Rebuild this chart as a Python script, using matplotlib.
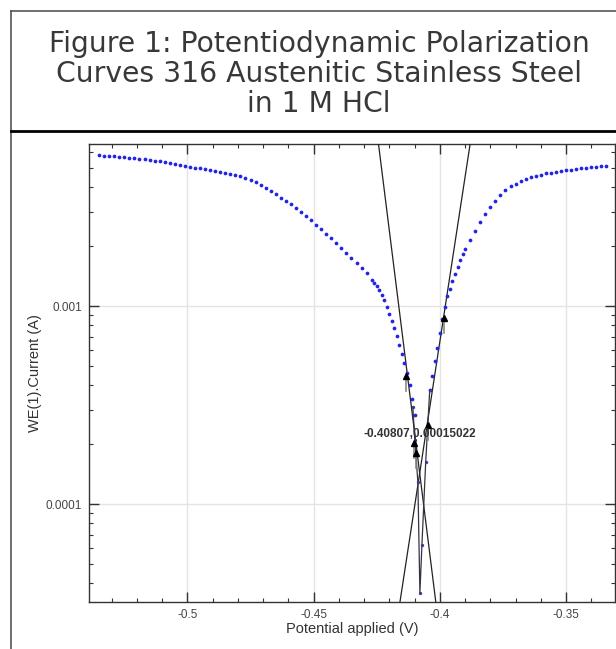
import matplotlib
matplotlib.use("Agg")
import matplotlib.pyplot as plt
from matplotlib.lines import Line2D
from matplotlib.ticker import FixedLocator, MultipleLocator, LogLocator, NullFormatter

# --- data (potential V, current A) ---
cat_E = [-0.535, -0.533, -0.531, -0.529, -0.527, -0.525, -0.523, -0.521, -0.519, -0.517,
         -0.515, -0.513, -0.511, -0.509, -0.507, -0.505, -0.503, -0.501, -0.499, -0.497,
         -0.495, -0.493, -0.491, -0.489, -0.487, -0.485, -0.483, -0.481, -0.479, -0.477,
         -0.475, -0.473, -0.471, -0.469, -0.467, -0.465, -0.463, -0.461, -0.459, -0.457,
         -0.455, -0.453, -0.451, -0.449, -0.447, -0.445, -0.443, -0.441, -0.439, -0.437,
         -0.435, -0.433, -0.431, -0.429, -0.427, -0.426, -0.425, -0.424, -0.423, -0.422,
         -0.421, -0.420, -0.419, -0.418, -0.417, -0.416, -0.415, -0.414, -0.413, -0.412,
         -0.411, -0.410]
cat_I = [5.78e-3, 5.75e-3, 5.73e-3, 5.70e-3, 5.67e-3, 5.65e-3, 5.61e-3, 5.58e-3, 5.55e-3, 5.51e-3,
         5.47e-3, 5.42e-3, 5.37e-3, 5.32e-3, 5.26e-3, 5.21e-3, 5.15e-3, 5.09e-3, 5.05e-3, 5.00e-3,
         4.95e-3, 4.91e-3, 4.85e-3, 4.81e-3, 4.75e-3, 4.70e-3, 4.65e-3, 4.58e-3, 4.51e-3, 4.42e-3,
         4.32e-3, 4.21e-3, 4.07e-3, 3.94e-3, 3.80e-3, 3.66e-3, 3.53e-3, 3.40e-3, 3.26e-3, 3.12e-3,
         2.99e-3, 2.85e-3, 2.72e-3, 2.58e-3, 2.45e-3, 2.32e-3, 2.20e-3, 2.08e-3, 1.97e-3, 1.86e-3,
         1.75e-3, 1.65e-3, 1.56e-3, 1.46e-3, 1.36e-3, 1.31e-3, 1.26e-3, 1.20e-3, 1.135e-3, 1.07e-3,
         9.93e-4, 9.16e-4, 8.41e-4, 7.71e-4, 7.05e-4, 6.38e-4, 5.75e-4, 5.13e-4, 4.57e-4, 3.98e-4,
         3.39e-4, 2.82e-4]

# noisy points around the corrosion potential
mid_E = [-0.4107, -0.4099, -0.4087, -0.4079, -0.4071, -0.4056, -0.4040]
mid_I = [3.09e-4, 2.10e-4, 1.29e-4, 3.56e-5, 6.2e-5, 1.63e-4, 3.77e-4]

an_E = [-0.404, -0.403, -0.402, -0.401, -0.400, -0.399, -0.398, -0.397, -0.396, -0.395,
        -0.394, -0.393, -0.392, -0.391, -0.390, -0.388, -0.386, -0.384, -0.382, -0.380,
        -0.378, -0.376, -0.374, -0.372, -0.370, -0.368, -0.366, -0.364, -0.362, -0.360,
        -0.358, -0.356, -0.354, -0.352, -0.350, -0.348, -0.346, -0.344, -0.342, -0.340,
        -0.338, -0.336, -0.334]
an_I = [3.77e-4, 4.42e-4, 5.25e-4, 6.17e-4, 7.33e-4, 8.61e-4, 9.89e-4, 1.12e-3, 1.22e-3, 1.33e-3,
        1.45e-3, 1.57e-3, 1.70e-3, 1.83e-3, 1.95e-3, 2.15e-3, 2.39e-3, 2.65e-3, 2.92e-3, 3.18e-3,
        3.41e-3, 3.65e-3, 3.85e-3, 4.02e-3, 4.15e-3, 4.27e-3, 4.38e-3, 4.48e-3, 4.55e-3, 4.61e-3,
        4.67e-3, 4.72e-3, 4.76e-3, 4.81e-3, 4.84e-3, 4.89e-3, 4.92e-3, 4.95e-3, 4.99e-3, 5.02e-3,
        5.05e-3, 5.08e-3, 5.11e-3]

# Tafel fit lines
tafel_cat_E = [-0.4243, -0.4016]
tafel_cat_I = [6.58e-3, 3.20e-5]
tafel_an_E = [-0.3880, -0.4158]
tafel_an_I = [6.58e-3, 3.20e-5]

# fit-range markers
mark_E = [-0.4135, -0.3984, -0.4103, -0.4048, -0.4095]
mark_I = [4.43e-4, 8.70e-4, 2.03e-4, 2.51e-4, 1.80e-4]

ecorr = -0.40807
icorr = 0.00015022

title_lines = ["Figure 1: Potentiodynamic Polarization",
               "Curves 316 Austenitic Stainless Steel",
               "in 1 M HCl"]

xticks = [-0.5, -0.45, -0.4, -0.35]
xticklabels = ["-0.5", "-0.45", "-0.4", "-0.35"]
yticks = [1e-4, 1e-3]
yticklabels = ["0.0001", "0.001"]

plt.rcParams["font.family"] = ["Liberation Sans", "DejaVu Sans"]

fig = plt.figure(figsize=(6.16, 6.49), dpi=100)

# frame round the figure, and the rule under the title
fig.add_artist(Line2D([11/616, 11/616], [0, 1 - 11/649], color="#555555", lw=1.2))
fig.add_artist(Line2D([11/616, 1], [1 - 11/649, 1 - 11/649], color="#555555", lw=1.2))
fig.add_artist(Line2D([11/616, 1], [1 - 131/649, 1 - 131/649], color="black", lw=2.0))

for k, line in enumerate(title_lines):
    fig.text(319/616, 1 - (52 + 30 * k)/649, line, ha="center", va="baseline",
             fontsize=20.3, family="DejaVu Sans", color="#383838")

ax = fig.add_axes([89/616, 1 - 602/649, (615 - 89)/616, (602 - 144)/649])
ax.set_yscale("log")

ax.plot(tafel_cat_E, tafel_cat_I, color="#222222", lw=0.9, zorder=3)
ax.plot(tafel_an_E, tafel_an_I, color="#222222", lw=0.9, zorder=3)
ax.plot(mid_E, mid_I, color="#333344", lw=0.9, zorder=3)

ax.plot(cat_E, cat_I, "o", color="#2424e0", ms=2.7, mec="none", zorder=4)
ax.plot(an_E, an_I, "o", color="#2424e0", ms=2.7, mec="none", zorder=4)
ax.plot(mid_E, mid_I, "o", color="#3a3a90", ms=2.4, mec="none", zorder=4)

# gray stems under the fit markers
for e, i in zip(mark_E, mark_I):
    ax.plot([e, e], [i * 0.84, i], color="#888888", lw=1.2, zorder=4)
ax.plot(mark_E, mark_I, "^", color="black", ms=4.5, zorder=5)

ax.annotate(f"{ecorr},{icorr:.8f}", (ecorr, icorr), xytext=(0, 35),
            textcoords="offset pixels", ha="center", va="center",
            fontsize=8.5, fontweight="bold", color="#333333", zorder=6)

ax.set_xlim(-0.539, -0.3306)
ax.set_ylim(3.2e-5, 6.58e-3)

ax.xaxis.set_major_locator(FixedLocator(xticks))
ax.set_xticklabels(xticklabels)
ax.xaxis.set_minor_locator(MultipleLocator(0.01))
ax.yaxis.set_major_locator(FixedLocator(yticks))
ax.set_yticklabels(yticklabels)
ax.yaxis.set_minor_locator(LogLocator(base=10, subs=range(2, 10)))
ax.yaxis.set_minor_formatter(NullFormatter())

ax.tick_params(which="both", direction="in", top=True, right=True, color="#333333",
               labelsize=8.5, labelcolor="#444444")
ax.tick_params(which="major", length=7, width=1.0, pad=5)
ax.tick_params(which="minor", length=3, width=0.8)

ax.grid(True, which="major", color="#e4e4e4", lw=1.0)
ax.set_axisbelow(True)
for s in ax.spines.values():
    s.set_color("#333333")
    s.set_linewidth(1.0)

ax.set_xlabel("Potential applied (V)", fontsize=10.5, color="#333333", labelpad=1)
ax.set_ylabel("WE(1).Current (A)", fontsize=10.5, color="#333333", labelpad=3)

fig.savefig("out.png", dpi=100)
